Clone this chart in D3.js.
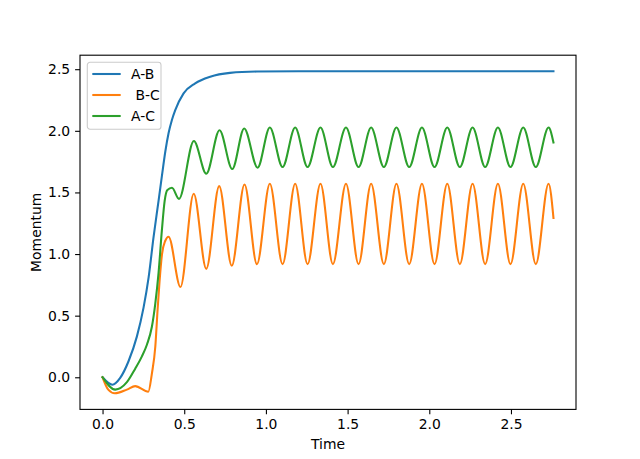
<!DOCTYPE html>
<html>
  <head>
    <meta charset="utf-8">
    <script src="https://cdnjs.cloudflare.com/ajax/libs/d3/7.8.5/d3.min.js"></script>
    <style type="text/css">
    body {
      margin: 0;
      background: white;
    }
    .axis text {
      fill: black;
      font-family: "DejaVu Sans", sans-serif;
      font-size: 13.9px;
    }
    .axis line {
      stroke: black;
      stroke-width: 1.1px;
    }
    .axis path {
      display: none;
    }
    .label {
      font-family: "DejaVu Sans", sans-serif;
      font-size: 13.9px;
      fill: black;
    }
    .series {
      fill: none;
      stroke-width: 2.08px;
      stroke-linecap: square;
    }
    </style>
  </head>
  <body>
    <script type="text/javascript">
      // values
      var seriesNames = ["A-B", " B-C", "A-C"];
      var seriesColors = ["#1f77b4", "#ff7f0e", "#2ca02c"];

      var abTime  = [0, 0.06, 0.108, 0.159, 0.21, 0.251, 0.282, 0.312, 0.343, 0.364, 0.384, 0.404,
                     0.425, 0.445, 0.496, 0.567, 0.659, 0.78, 0.945, 1.2, 2.76];
      var abValue = [0, -0.06, -0.005, 0.13, 0.33, 0.565, 0.81, 1.135, 1.434, 1.64, 1.83, 1.98,
                     2.09, 2.168, 2.304, 2.385, 2.439, 2.47, 2.481, 2.483, 2.483];

      var bcTime  = [0, 0.035, 0.075, 0.149, 0.2, 0.28, 0.302, 0.323, 0.337, 0.349, 0.364, 0.384,
                     0.404, 0.477, 0.558, 0.635, 0.714, 0.791, 0.869, 0.945, 1.024, 1.102, 1.179,
                     1.255, 1.334, 1.410, 1.490, 1.567, 1.644, 1.722, 1.799, 1.877, 1.955, 2.032,
                     2.110, 2.187, 2.265, 2.342, 2.420, 2.497, 2.575, 2.652, 2.730, 2.760];
      var bcValue = [0, -0.1, -0.13, -0.1, -0.072, -0.117, 0.03, 0.25, 0.55, 0.78, 1.0, 1.108,
                     1.141, 0.733, 1.489, 0.880, 1.551, 0.905, 1.565, 0.918, 1.570, 0.918, 1.570,
                     0.918, 1.570, 0.918, 1.570, 0.918, 1.570, 0.918, 1.570, 0.918, 1.570, 0.918,
                     1.570, 0.918, 1.570, 0.918, 1.570, 0.918, 1.570, 0.918, 1.570, 1.293];

      var acTime  = [0, 0.078, 0.149, 0.2, 0.241, 0.272, 0.302, 0.323, 0.343, 0.363, 0.38, 0.397,
                     0.425, 0.468, 0.559, 0.635, 0.716, 0.794, 0.867, 0.949, 1.024, 1.102, 1.179,
                     1.255, 1.334, 1.410, 1.490, 1.567, 1.644, 1.722, 1.799, 1.877, 1.955, 2.032,
                     2.110, 2.187, 2.265, 2.342, 2.420, 2.497, 2.575, 2.652, 2.730, 2.760];
      var acValue = [0, -0.1, -0.04, 0.07, 0.17, 0.266, 0.41, 0.6, 0.85, 1.19, 1.43, 1.52,
                     1.538, 1.448, 1.918, 1.652, 2.005, 1.690, 2.019, 1.701, 2.027, 1.706, 2.027,
                     1.706, 2.027, 1.706, 2.027, 1.706, 2.027, 1.706, 2.027, 1.706, 2.027, 1.706,
                     2.027, 1.706, 2.027, 1.706, 2.027, 1.706, 2.027, 1.706, 2.027, 1.905];

      var xTicks = [0, 0.5, 1.0, 1.5, 2.0, 2.5];
      var yTicks = [0, 0.5, 1.0, 1.5, 2.0, 2.5];

      // figure size and axes box
      var w = 640;
      var h = 459;
      var axLeft = 80, axRight = 576, axTop = 55.2, axBottom = 409.4;

      var series = [
        { name: seriesNames[0], color: seriesColors[0], t: abTime, v: abValue },
        { name: seriesNames[1], color: seriesColors[1], t: bcTime, v: bcValue },
        { name: seriesNames[2], color: seriesColors[2], t: acTime, v: acValue }
      ];
      series.forEach(function(s) {
        s.points = s.t.map(function(t, i) { return [t, s.v[i]]; });
      });

      // matplotlib style 5% margins
      var allT = d3.merge(series.map(function(s) { return s.t; }));
      var allV = d3.merge(series.map(function(s) { return s.v; }));
      var tExt = d3.extent(allT), vExt = d3.extent(allV);
      var tPad = (tExt[1] - tExt[0]) * 0.05, vPad = (vExt[1] - vExt[0]) * 0.05;

      var xScale = d3.scaleLinear()
                     .domain([tExt[0] - tPad, tExt[1] + tPad])
                     .range([axLeft, axRight]);
      var yScale = d3.scaleLinear()
                     .domain([vExt[0] - vPad, vExt[1] + vPad])
                     .range([axBottom, axTop]);

      var svg = d3.select("body")
                  .append("svg")
                  .attr("width", w)
                  .attr("height", h);

      svg.append("defs").append("clipPath")
         .attr("id", "clip")
         .append("rect")
         .attr("x", axLeft).attr("y", axTop)
         .attr("width", axRight - axLeft).attr("height", axBottom - axTop);

      // lines
      var line = d3.line()
                   .x(function(d) { return xScale(d[0]); })
                   .y(function(d) { return yScale(d[1]); })
                   .curve(d3.curveMonotoneX);

      svg.append("g")
         .attr("clip-path", "url(#clip)")
         .selectAll("path")
         .data(series)
         .enter()
         .append("path")
           .attr("class", "series")
           .attr("stroke", function(d) { return d.color; })
           .attr("d", function(d) { return line(d.points); });

      // axes
      var xAxis = d3.axisBottom(xScale)
                    .tickValues(xTicks)
                    .tickFormat(d3.format(".1f"))
                    .tickSize(4.9)
                    .tickPadding(4.4);
      var yAxis = d3.axisLeft(yScale)
                    .tickValues(yTicks)
                    .tickFormat(d3.format(".1f"))
                    .tickSize(4.9)
                    .tickPadding(4.9);

      svg.append("g")
         .attr("class", "axis")
         .attr("transform", "translate(0," + axBottom + ")")
         .call(xAxis);
      svg.append("g")
         .attr("class", "axis")
         .attr("transform", "translate(" + axLeft + ",0)")
         .call(yAxis);

      // frame
      svg.append("rect")
         .attr("x", axLeft).attr("y", axTop)
         .attr("width", axRight - axLeft).attr("height", axBottom - axTop)
         .attr("fill", "none")
         .attr("stroke", "black")
         .attr("stroke-width", 1.1);

      // axis labels
      svg.append("text")
         .attr("class", "label")
         .attr("x", (axLeft + axRight) / 2)
         .attr("y", 448.5)
         .attr("text-anchor", "middle")
         .text("Time");
      svg.append("text")
         .attr("class", "label")
         .attr("transform", "rotate(-90)")
         .attr("x", -(axTop + axBottom) / 2)
         .attr("y", 40.5)
         .attr("text-anchor", "middle")
         .text("Momentum");

      // legend
      var legend = svg.append("g").attr("transform", "translate(87.3,62.3)");
      legend.append("rect")
            .attr("width", 73.7).attr("height", 67)
            .attr("rx", 2.8)
            .attr("fill", "white")
            .attr("fill-opacity", 0.8)
            .attr("stroke", "#cccccc")
            .attr("stroke-width", 1.1);
      var rows = legend.selectAll(".row")
                       .data(series)
                       .enter()
                       .append("g")
                         .attr("class", "row")
                         .attr("transform", function(d, i) { return "translate(0," + (11.7 + i * 21) + ")"; });
      rows.append("line")
          .attr("x1", 5).attr("x2", 33.4)
          .attr("stroke", function(d) { return d.color; })
          .attr("stroke-width", 2.08);
      rows.append("text")
          .attr("class", "label")
          .attr("x", 43.7)
          .attr("y", 5)
          .style("white-space", "pre")
          .text(function(d) { return d.name; });
    </script>
  </body>
</html>
